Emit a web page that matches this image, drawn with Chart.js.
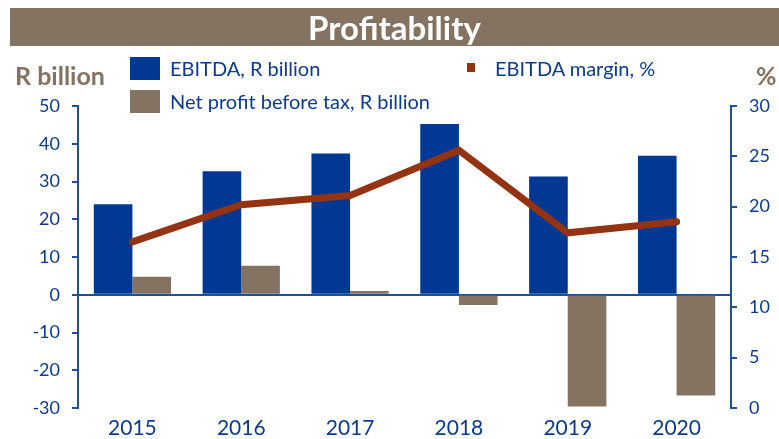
<!DOCTYPE html>
<html lang="en">
<head>
<meta charset="UTF-8">
<title>Profitability</title>
<script src="https://cdn.jsdelivr.net/npm/chart.js"></script>
<style>
    body { margin: 0; background: #fff; font-family: Lato, "Open Sans", sans-serif; }
    .wrap { position: relative; width: 779px; height: 439px; overflow: hidden; }
    canvas { position: absolute; left: 0; top: 0; }
    .band {
        position: absolute; left: 10px; top: 8px; width: 769px; height: 38px;
        background: #837360; color: #fff; font-weight: bold; font-size: 33px;
        text-align: center; line-height: 38px;
    }
    .unit { position: absolute; top: 60px; color: #837360; font-weight: bold; font-size: 25px; line-height: 30px; }
    .leg { position: absolute; color: #0b3a8f; font-size: 20px; line-height: 22px; }
    .sw { position: absolute; }
</style>
</head>
<body>
<div class="wrap">
    <canvas id="chart" width="779" height="439"></canvas>
    <div class="band">Profitability</div>
    <div class="unit" style="left:15px">R billion</div>
    <div class="unit" style="left:756px">%</div>
    <div class="sw" style="left:130px;top:57px;width:30px;height:23px;background:#003893"></div>
    <div class="leg" style="left:170px;top:57px">EBITDA, R billion</div>
    <div class="sw" style="left:130px;top:90px;width:30px;height:23px;background:#837360"></div>
    <div class="leg" style="left:170px;top:90px">Net profit before tax, R billion</div>
    <div class="sw" style="left:467px;top:63px;width:8px;height:9px;background:#943312"></div>
    <div class="leg" style="left:495px;top:57px">EBITDA margin, %</div>
</div>
<script>
    // data
    const years = ['2015', '2016', '2017', '2018', '2019', '2020'];
    const ebitda = [24.0, 32.7, 37.4, 45.2, 31.3, 36.8];
    const netProfit = [4.8, 7.7, 1.0, -2.7, -29.6, -26.7];
    const margin = [16.5, 20.2, 21.1, 25.6, 17.4, 18.5];

    const blue = '#003893';
    const textBlue = '#0b3a8f';
    const axisBlue = '#1f4f9f';

    new Chart(document.getElementById('chart'), {
        data: {
            labels: years,
            datasets: [{
                type: 'line',
                label: 'EBITDA margin, %',
                data: margin,
                yAxisID: 'y1',
                borderColor: '#943312',
                borderWidth: 7,
                borderCapStyle: 'round',
                pointRadius: 0,
                tension: 0,
                order: 0
            }, {
                type: 'bar',
                label: 'EBITDA, R billion',
                data: ebitda,
                yAxisID: 'y',
                backgroundColor: blue,
                categoryPercentage: 0.71,
                barPercentage: 1,
                order: 1
            }, {
                type: 'bar',
                label: 'Net profit before tax, R billion',
                data: netProfit,
                yAxisID: 'y',
                backgroundColor: '#837360',
                categoryPercentage: 0.71,
                barPercentage: 1,
                order: 1
            }]
        },
        options: {
            responsive: false,
            animation: false,
            layout: { padding: { top: 106, left: 0, right: 0, bottom: 0 } },
            plugins: { legend: { display: false }, title: { display: false }, tooltip: { enabled: false } },
            scales: {
                x: {
                    grid: { display: false },
                    border: { display: false },
                    ticks: { color: textBlue, font: { family: 'Lato', size: 21 }, padding: 0 },
                    afterFit: s => { s.height = 31; }
                },
                y: {
                    position: 'left',
                    min: -30, max: 50,
                    ticks: { stepSize: 10, color: textBlue, font: { family: 'Lato', size: 18 }, padding: 12 },
                    grid: {
                        color: c => c.tick && c.tick.value === 0 ? axisBlue : 'transparent',
                        lineWidth: 2,
                        tickColor: axisBlue,
                        tickLength: 6
                    },
                    border: { color: axisBlue, width: 2 },
                    afterFit: s => { s.width = 78; }
                },
                y1: {
                    position: 'right',
                    min: 0, max: 30,
                    ticks: { stepSize: 5, color: textBlue, font: { family: 'Lato', size: 18 }, padding: 12 },
                    grid: { drawOnChartArea: false, tickColor: axisBlue, tickLength: 6, lineWidth: 2 },
                    border: { color: axisBlue, width: 2 },
                    afterFit: s => { s.width = 48; }
                }
            }
        }
    });
</script>
</body>
</html>
